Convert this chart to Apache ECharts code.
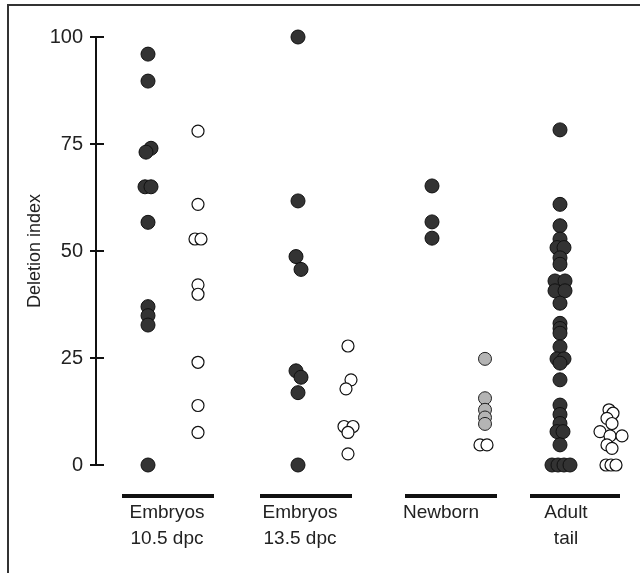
<!DOCTYPE html>
<html>
<head>
<meta charset="utf-8">
<script src="https://cdn.jsdelivr.net/npm/echarts@6/dist/echarts.min.js"></script>
<style>html,body{margin:0;padding:0;background:#fff;}#c{width:640px;height:573px;}</style>
</head>
<body>
<div id="c"></div>
<script>
// ---- data ----
var groupLabels = ['Embryos\n10.5 dpc', 'Embryos\n13.5 dpc', 'Newborn', 'Adult\ntail'];
var groupLabelPos = [71, 204, 345, 470];
var groupBars = [[26, 118], [164, 256], [309, 401], [434, 524]];
var yTicks = [0, 25, 50, 75, 100];

var darkPos = [52, 202, 336, 464];
var lightPos = [102, 252, 389, 514];

// Embryos 10.5 dpc
var e105Dark = [96, 89.7, 74, 73.1, 65, 65, 56.7, 37, 34.9, 32.7, 0];
var e105DarkJit = [0, 0, 3, -2, -3, 3, 0, 0, 0, 0, 0];
var e105Open = [78, 60.9, 52.8, 52.8, 42.1, 39.9, 24, 13.9, 7.6];
var e105OpenJit = [0, 0, -3, 3, 0, 0, 0, 0, 0];

// Embryos 13.5 dpc
var e135Dark = [100, 61.7, 48.7, 45.7, 22, 20.5, 16.9, 0];
var e135DarkJit = [0, 0, -2, 3, -2, 3, 0, 0];
var e135Open = [27.8, 19.9, 17.8, 9, 9, 7.6, 2.6];
var e135OpenJit = [0, 3, -2, -4, 5, 0, 0];

// Newborn
var nbDark = [65.2, 56.8, 53.0];
var nbDarkJit = [0, 0, 0];
var nbGray = [24.8, 15.6, 12.9, 11.1, 9.6];
var nbGrayJit = [0, 0, 0, 0, 0];
var nbOpen = [4.7, 4.7];
var nbOpenJit = [-5, 2];

// Adult tail
var adDark = [78.3, 60.9, 55.9, 52.8, 50.8, 50.8, 48.4, 46.9, 43, 43, 40.7, 40.7, 37.8, 33.1, 31.9, 30.8, 27.6, 24.8, 24.8, 23.8, 19.9, 14, 11.8, 9.7, 7.8, 7.8, 4.7, 0, 0, 0, 0];
var adDarkJit = [0, 0, 0, 0, -3, 4, 0, 0, -5, 5, -5, 5, 0, 0, 0, 0, 0, -3, 4, 0, 0, 0, 0, 0, -3, 3, 0, -8, -2, 4, 10];
var adOpen = [12.9, 12.1, 10.9, 9.7, 7.8, 6.8, 6.8, 4.7, 3.9, 0, 0, 0];
var adOpenJit = [-1, 3, -3, 2, -10, 0, 12, -3, 2, -4, 1, 6];

function pts(pos, vals, jit) {
  return vals.map(function (v, i) { return [pos + jit[i], v]; });
}

var darkData = [].concat(
  pts(darkPos[0], e105Dark, e105DarkJit),
  pts(darkPos[1], e135Dark, e135DarkJit),
  pts(darkPos[2], nbDark, nbDarkJit),
  pts(darkPos[3], adDark, adDarkJit)
);
var openData = [].concat(
  pts(lightPos[0], e105Open, e105OpenJit),
  pts(lightPos[1], e135Open, e135OpenJit),
  pts(lightPos[2], nbOpen, nbOpenJit),
  pts(lightPos[3], adOpen, adOpenJit)
);
var grayData = pts(lightPos[2], nbGray, nbGrayJit);

var FONT = 'Liberation Sans';
var chart = echarts.init(document.getElementById('c'), null, { renderer: 'canvas' });
chart.setOption({
  animation: false,
  backgroundColor: '#fff',
  textStyle: { fontFamily: FONT },
  graphic: [{
    type: 'polyline',
    shape: { points: [[8, 580], [8, 5], [645, 5]] },
    style: { stroke: '#333', lineWidth: 2, fill: null }
  }],
  grid: { left: 96, right: 0, top: 37, bottom: 108, containLabel: false },
  xAxis: {
    type: 'value', min: 0, max: 544,
    axisLine: { show: false }, axisTick: { show: false }, splitLine: { show: false },
    axisLabel: {
      customValues: groupLabelPos,
      margin: 35,
      fontSize: 19, color: '#222', lineHeight: 26, fontFamily: FONT,
      formatter: function (v) {
        var i = groupLabelPos.indexOf(v);
        return i >= 0 ? groupLabels[i] : '';
      }
    }
  },
  yAxis: {
    type: 'value', min: 0, max: 100, interval: 25,
    name: 'Deletion index', nameLocation: 'middle', nameGap: 52, nameMoveOverlap: false,
    nameTextStyle: { fontSize: 18, color: '#222', fontFamily: FONT },
    axisLine: { show: true, lineStyle: { color: '#111', width: 2 } },
    axisTick: { show: true, length: 6, lineStyle: { color: '#111', width: 2 } },
    axisLabel: { fontSize: 20, color: '#222', margin: 13, fontFamily: FONT },
    splitLine: { show: false }
  },
  series: [{
    // inner half of the crossing y ticks
    type: 'custom', clip: false, silent: true,
    data: yTicks.map(function (v) { return [0, v]; }),
    renderItem: function (params, api) {
      var p = api.coord([api.value(0), api.value(1)]);
      return { type: 'line', shape: { x1: p[0], y1: p[1], x2: p[0] + 8, y2: p[1] }, style: { stroke: '#111', lineWidth: 2 } };
    }
  }, {
    type: 'custom',
    clip: false,
    silent: true,
    data: groupBars,
    renderItem: function (params, api) {
      var p1 = api.coord([api.value(0), 0]);
      var p2 = api.coord([api.value(1), 0]);
      return { type: 'rect', shape: { x: p1[0], y: p1[1] + 29, width: p2[0] - p1[0], height: 4 }, style: { fill: '#111' } };
    }
  }, {
    type: 'scatter', data: darkData, symbolSize: 14, clip: false,
    itemStyle: { color: '#333333', borderColor: '#111', borderWidth: 1, opacity: 1 }
  }, {
    type: 'scatter', data: grayData, symbolSize: 13, clip: false,
    itemStyle: { color: '#b4b4b4', borderColor: '#222', borderWidth: 1, opacity: 1 }
  }, {
    type: 'scatter', data: openData, symbolSize: 12, clip: false,
    itemStyle: { color: '#ffffff', borderColor: '#111', borderWidth: 1.2, opacity: 1 }
  }]
});
</script>
</body>
</html>
